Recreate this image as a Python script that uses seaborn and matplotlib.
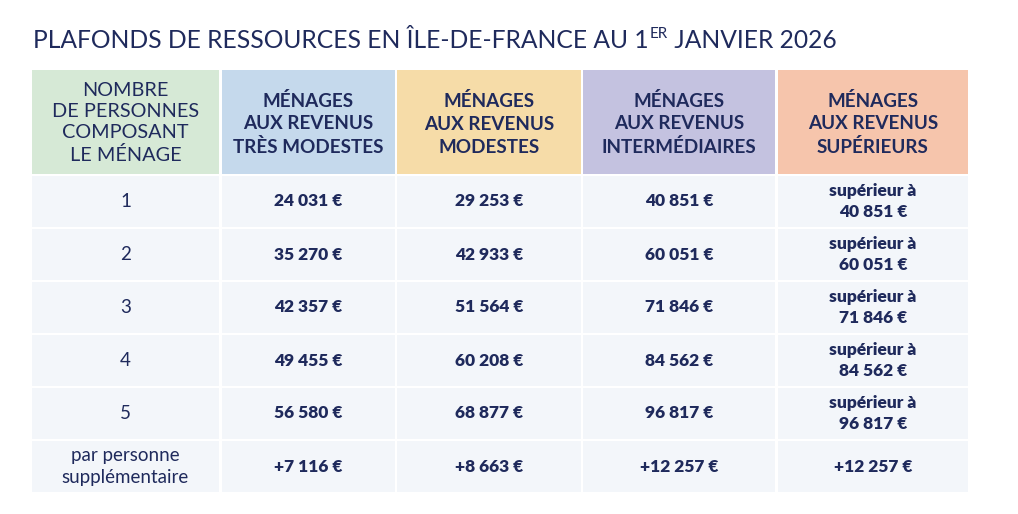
import matplotlib
matplotlib.use("Agg")
import matplotlib.pyplot as plt
import seaborn as sns

# data
title_start = "PLAFONDS DE RESSOURCES EN ÎLE-DE-FRANCE AU 1"
title_sup = "ER"
title_end = " JANVIER 2026"

headers = [
    "NOMBRE\nDE PERSONNES\nCOMPOSANT\nLE MÉNAGE",
    "MÉNAGES\nAUX REVENUS\nTRÈS MODESTES",
    "MÉNAGES\nAUX REVENUS\nMODESTES",
    "MÉNAGES\nAUX REVENUS\nINTERMÉDIAIRES",
    "MÉNAGES\nAUX REVENUS\nSUPÉRIEURS",
]
header_colors = ["#d6e9d6", "#c5d9ec", "#f6dca8", "#c4c2e0", "#f6c5ac"]

row_labels = ["1", "2", "3", "4", "5", "par personne\nsupplémentaire"]
tres_modestes = [24031, 35270, 42357, 49455, 56580, 7116]
modestes = [29253, 42933, 51564, 60208, 68877, 8663]
intermediaires = [40851, 60051, 71846, 84562, 96817, 12257]
superieurs = [40851, 60051, 71846, 84562, 96817, 12257]

navy = "#1f2a5c"
body_color = "#f3f6fa"


def euro(v):
    return f"{v:,}".replace(",", " ") + " €"


sns.set_theme(style="white")
plt.rcParams["font.family"] = ["Lato", "DejaVu Sans"]

fig = plt.figure(figsize=(10.18, 5.14), dpi=100)
ax = fig.add_axes([0, 0, 1, 1])
ax.set_xlim(0, 1018)
ax.set_ylim(514, 0)
ax.axis("off")

# layout (pixels)
col_left = [32, 222, 397, 583, 778]
col_right = [219, 395, 581, 775, 968]
head_top, head_bot = 70, 174
row_top0, row_pitch, row_h = 176, 53, 51

widths = [r - l for l, r in zip(col_left, col_right)]
centers = [(l + r) / 2 for l, r in zip(col_left, col_right)]

# header cells
ax.bar(col_left, [head_bot - head_top] * 5, width=widths, bottom=head_top,
       align="edge", color=header_colors, linewidth=0)
for j, h in enumerate(headers):
    if j == 0:
        ax.text(centers[j], (head_top + head_bot) / 2 + 1, h, ha="center",
                va="center", fontsize=14.3, color=navy, linespacing=1.3)
    else:
        ax.text(centers[j], (head_top + head_bot) / 2 + 2, h, ha="center",
                va="center", fontsize=13.6, color=navy, fontweight="bold",
                linespacing=1.4)

# body cells
value_cols = [tres_modestes, modestes, intermediaires, superieurs]
for i, lab in enumerate(row_labels):
    top = row_top0 + i * row_pitch
    ax.bar(col_left, [row_h] * 5, width=widths, bottom=top, align="edge",
           color=body_color, linewidth=0)
    yc = top + row_h / 2
    ax.text(centers[0], yc, lab, ha="center", va="center", fontsize=13.5,
            color=navy, linespacing=1.34)
    for j, col in enumerate(value_cols):
        v = col[i]
        if i == len(row_labels) - 1:
            s = "+" + euro(v)
        elif j == 3:
            s = "supérieur à\n" + euro(v)
        else:
            s = euro(v)
        ax.text(centers[j + 1], yc, s, ha="center", va="center", fontsize=12.5,
                color=navy, fontweight="heavy", linespacing=1.38)

# title with superscript
fig.canvas.draw()
r = fig.canvas.get_renderer()
t1 = ax.text(33, 41, title_start, ha="left", va="center", fontsize=17.7, color=navy)
bb = t1.get_window_extent(renderer=r)
t2 = ax.text(bb.x1 + 1, 34, title_sup, ha="left", va="center", fontsize=11, color=navy)
bb2 = t2.get_window_extent(renderer=r)
ax.text(bb2.x1, 41, title_end, ha="left", va="center", fontsize=17.7, color=navy)

fig.savefig("out.png", dpi=100)
